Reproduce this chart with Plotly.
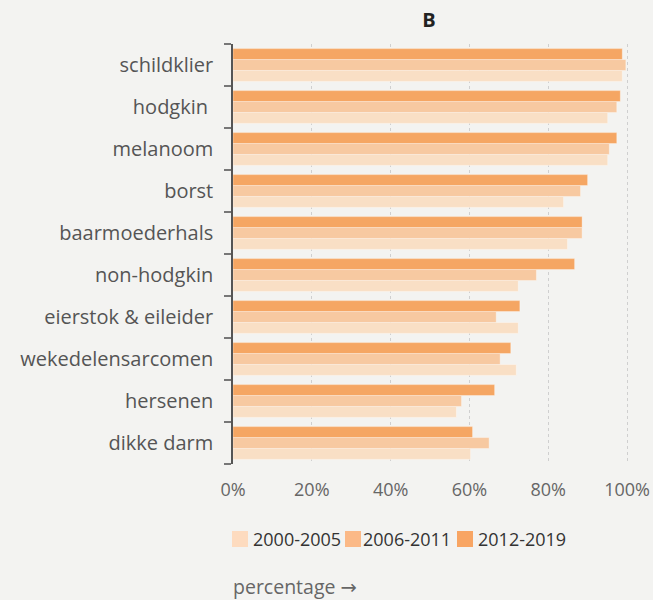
import plotly.graph_objects as go

categories = ["schildklier", "hodgkin\u00a0", "melanoom", "borst", "baarmoederhals",
              "non-hodgkin", "eierstok & eileider", "wekedelensarcomen",
              "hersenen", "dikke darm"]
series_names = ["2000-2005", "2006-2011", "2012-2019"]
v_2000_2005 = [98.8, 95.1, 95.1, 83.9, 84.9, 72.4, 72.4, 71.9, 56.7, 60.3]
v_2006_2011 = [99.7, 97.4, 95.5, 88.2, 88.6, 77.0, 66.8, 67.8, 58.0, 65.0]
v_2012_2019 = [98.8, 98.3, 97.4, 90.0, 88.6, 86.7, 72.8, 70.5, 66.4, 60.8]
x_ticks = [0, 20, 40, 60, 80, 100]
x_ticklabels = ["0%", "20%", "40%", "60%", "80%", "100%"]

values = [v_2000_2005, v_2006_2011, v_2012_2019]

# styles
bar_colors = ["#F9DFC5", "#F7C9A1", "#F5A663"]
legend_colors = ["#FDDBBF", "#FBB987", "#F8A563"]
legend_swatch_x = [232, 345, 457]   # pixel positions of legend swatches
legend_text_gap = [19, 16, 19]

FONT = "Open Sans"
W, H = 653, 600
L, R, T, B = 233, 24, 44, 136
PW, PH = W - L - R, H - T - B


def px_x(p):
    return (p - L) / PW


def px_y(p):
    return (T + PH - p) / PH


fig = go.Figure()
for name, vals, col in zip(series_names, values, bar_colors):
    fig.add_trace(go.Bar(
        y=categories, x=vals, name=name, orientation="h",
        marker=dict(color=col, line=dict(color="rgba(255,255,255,0.35)", width=1)),
    ))

fig.update_layout(
    width=W, height=H,
    paper_bgcolor="#F3F3F1", plot_bgcolor="#F3F3F1",
    margin=dict(l=L, r=R, t=T, b=B, autoexpand=False),
    barmode="group", bargap=0.22, bargroupgap=0,
    font=dict(family=FONT, color="#555555"),
    title=dict(text="<b>B</b>", x=429 / W, xanchor="center",
               y=1 - 20 / H, yanchor="middle",
               font=dict(family=FONT, size=20, color="#222222")),
    showlegend=False,
    xaxis=dict(range=[0, 100.5], tickvals=x_ticks, ticktext=x_ticklabels,
               automargin=False,
               showgrid=True, gridcolor="#CFCFCF", griddash="dot", gridwidth=1,
               zeroline=False, showline=False, ticks="",
               tickfont=dict(family=FONT, size=18, color="#666666"),
               ticklabelstandoff=13),
    yaxis=dict(categoryorder="array", categoryarray=categories[::-1],
               automargin=False,
               showline=True, linecolor="#555555", linewidth=1.5,
               ticks="outside", tickson="boundaries", ticklen=7,
               tickcolor="#777777", tickwidth=2,
               showgrid=False, zeroline=False,
               tickfont=dict(family=FONT, size=20, color="#555555"),
               ticklabelstandoff=14),
)

# legend drawn as swatches + labels
for name, col, sx, gap in zip(series_names, legend_colors, legend_swatch_x, legend_text_gap):
    fig.add_shape(type="rect", xref="paper", yref="paper",
                  x0=px_x(sx), x1=px_x(sx + 16), y0=px_y(547), y1=px_y(531),
                  fillcolor=col, line=dict(width=0), layer="above")
    fig.add_annotation(text=name, xref="paper", yref="paper",
                       x=px_x(sx + gap), y=px_y(539), showarrow=False,
                       xanchor="left", yanchor="middle",
                       font=dict(family=FONT, size=18, color="#333333"))

fig.add_annotation(text="percentage <span style='font-family:DejaVu Sans'>\u2192</span>",
                   xref="paper", yref="paper",
                   x=px_x(232), y=px_y(586), showarrow=False,
                   xanchor="left", yanchor="middle", xshift=-1,
                   font=dict(family=FONT, size=19.5, color="#666666"))

fig.write_html("out.html", config={"displayModeBar": False},
               post_script="document.body.style.margin='0px';")
